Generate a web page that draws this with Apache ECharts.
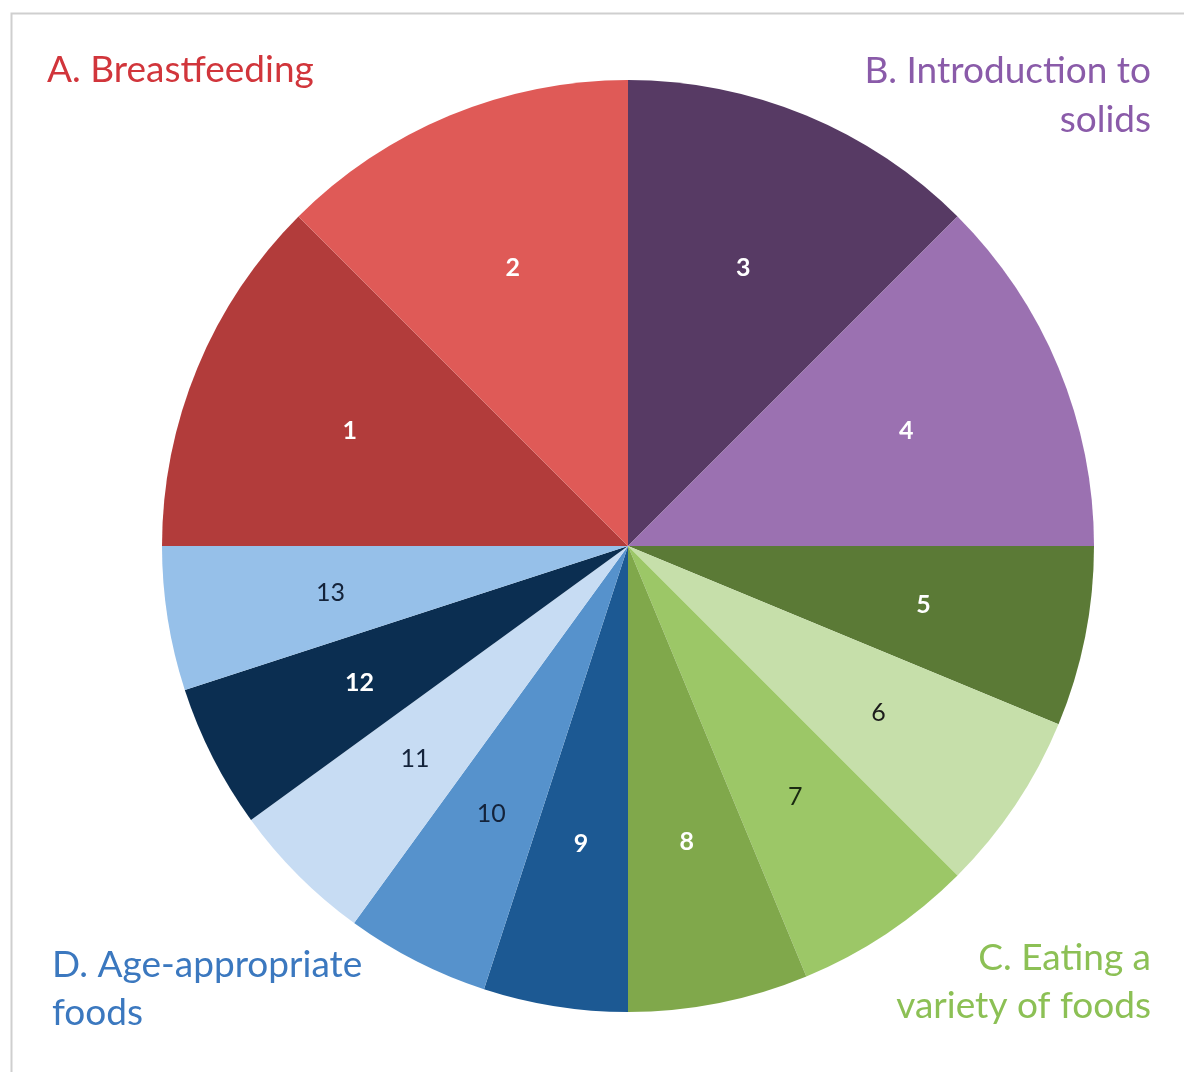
<!DOCTYPE html>
<html>
<head>
<meta charset="utf-8">
<script src="https://cdn.jsdelivr.net/npm/echarts@6/dist/echarts.min.js"></script>
<style>
  html, body { margin: 0; padding: 0; background: #fff; }
  #pieChart { width: 1184px; height: 1072px; }
</style>
</head>
<body>
<div id="pieChart"></div>
<script>
// slices in clockwise order starting at 12 o'clock
var sliceNames = ['3', '4', '5', '6', '7', '8', '9', '10', '11', '12', '13', '1', '2'];
var sliceValues = [45, 45, 22.5, 22.5, 22.5, 22.5, 18, 18, 18, 18, 18, 45, 45];
var sliceColors = ['#573a64', '#9b71b1', '#5b7a36', '#c6dfaa', '#9cc767', '#80a84b',
    '#1c5993', '#5692cc', '#c7dcf3', '#0b2e51', '#96c0e9', '#b23c3b', '#df5a57'];
var labelColors = ['#fff', '#fff', '#fff', '#1b1b1b', '#1b2a12', '#fff',
    '#fff', '#14233a', '#14233a', '#fff', '#14233a', '#fff', '#fff'];
var groupTitles = ['A. Breastfeeding', 'B. Introduction to\nsolids',
    'C. Eating a\nvariety of foods', 'D. Age-appropriate\nfoods'];

var font = 'Lato, "Open Sans", sans-serif';
var R = 466;

var pieData = [];
var labelData = [];
for (var i = 0; i < sliceNames.length; i++) {
    pieData.push({
        name: sliceNames[i],
        value: sliceValues[i],
        itemStyle: { color: sliceColors[i] }
    });
    labelData.push({
        name: sliceNames[i],
        value: sliceValues[i],
        label: {
            color: labelColors[i],
            fontWeight: labelColors[i] == '#fff' ? 'bold' : 'normal'
        }
    });
}

var myChart = echarts.init(document.getElementById('pieChart'));
myChart.setOption({
    animation: false,
    graphic: [
        {
            type: 'rect', silent: true,
            shape: { x: 11.5, y: 13.5, width: 1300, height: 1200 },
            style: { fill: 'none', stroke: '#cfcfcf', lineWidth: 2 }
        },
        {
            type: 'text', x: 47, y: 70,
            style: { text: groupTitles[0], font: '37px ' + font, fill: '#d1353b',
                textAlign: 'left', textVerticalAlign: 'middle' }
        },
        {
            type: 'text', x: 1151, y: 96,
            style: { text: groupTitles[1], font: '37px ' + font, fill: '#8a5ba9',
                textAlign: 'right', textVerticalAlign: 'middle', lineHeight: 49 }
        },
        {
            type: 'text', x: 1151, y: 982,
            style: { text: groupTitles[2], font: '37px ' + font, fill: '#8cc055',
                textAlign: 'right', textVerticalAlign: 'middle', lineHeight: 48 }
        },
        {
            type: 'text', x: 52, y: 989,
            style: { text: groupTitles[3], font: '37px ' + font, fill: '#3b78bf',
                textAlign: 'left', textVerticalAlign: 'middle', lineHeight: 48 }
        }
    ],
    series: [
        {
            type: 'pie',
            center: [628, 546],
            radius: [0, R],
            startAngle: 90,
            clockwise: true,
            silent: true,
            label: { show: false },
            labelLine: { show: false },
            data: pieData
        },
        {
            // transparent ring used only to place labels further out
            type: 'pie',
            center: [628, 546],
            radius: [R * 0.34, R * 0.94],
            startAngle: 90,
            clockwise: true,
            silent: true,
            itemStyle: { color: 'rgba(0,0,0,0)', borderWidth: 0 },
            label: {
                show: true,
                position: 'inside',
                formatter: '{b}',
                fontFamily: font,
                fontSize: 25
            },
            labelLine: { show: false },
            data: labelData
        }
    ]
});
</script>
</body>
</html>
